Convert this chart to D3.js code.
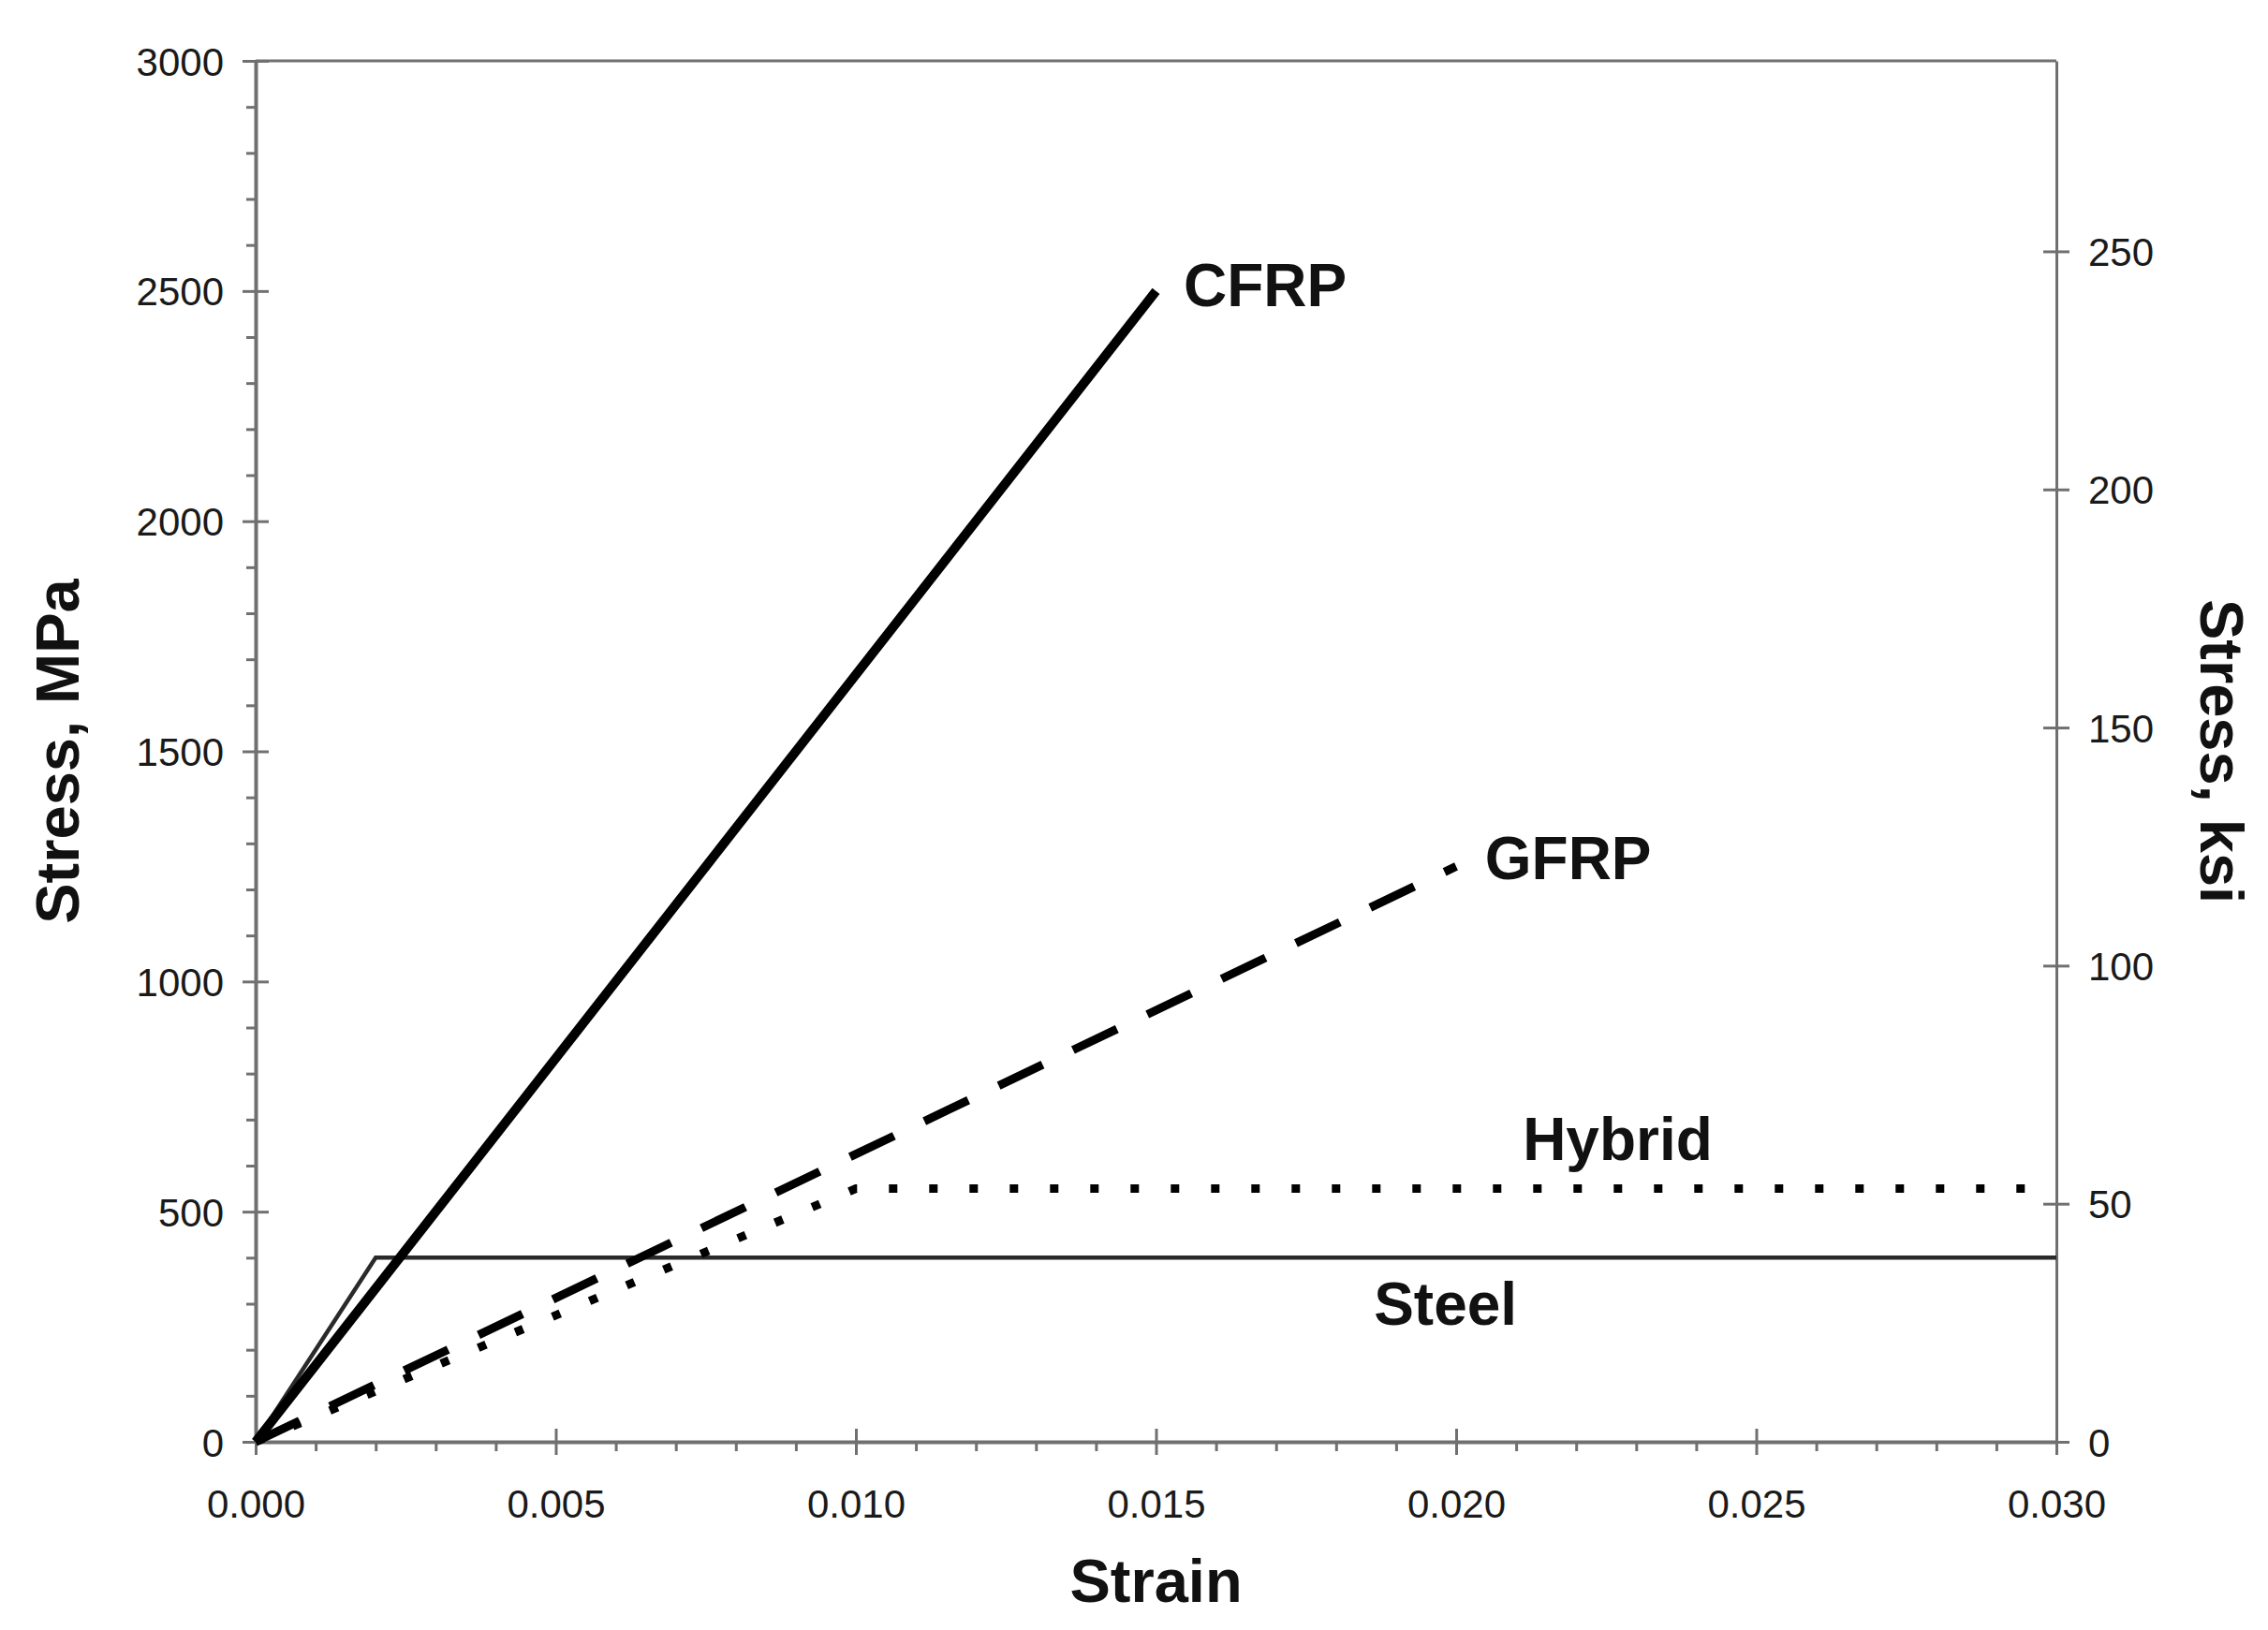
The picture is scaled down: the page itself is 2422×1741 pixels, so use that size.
<!DOCTYPE html>
<html>
<head>
<meta charset="utf-8">
<script src="https://cdn.jsdelivr.net/npm/d3@7"></script>
<style>
  body { margin: 0; background: #fff; }
  svg { display: block; font-family: "Liberation Sans", Arial, sans-serif; }
  .tick text { fill: #1a1a1a; }
</style>
</head>
<body>
<svg id="chart" width="2422" height="1741"></svg>
<script>
const W = 2422, H = 1741;
const MARGIN = { top: 65, right: 226, bottom: 201, left: 273 };

// strain ticks and stress ticks
const strainTicks = [0, 0.005, 0.010, 0.015, 0.020, 0.025, 0.030];
const strainMinor = [0.001, 0.002, 0.003, 0.004, 0.006, 0.007, 0.008, 0.009, 0.011, 0.012, 0.013, 0.014,
  0.016, 0.017, 0.018, 0.019, 0.021, 0.022, 0.023, 0.024, 0.026, 0.027, 0.028, 0.029];
const mpaTicks = [0, 500, 1000, 1500, 2000, 2500, 3000];
const mpaMinor = [100, 200, 300, 400, 600, 700, 800, 900, 1100, 1200, 1300, 1400, 1600, 1700, 1800, 1900,
  2100, 2200, 2300, 2400, 2600, 2700, 2800, 2900];
const ksiTicks = [0, 50, 100, 150, 200, 250];

// series: [strain, stress MPa]
const cfrp = [[0, 0], [0.015, 2500]];
const gfrp = [[0, 0], [0.020, 1250]];
const hybrid = [[0, 0], [0.010, 550], [0.030, 550]];
const steel = [[0, 0], [0.002, 400], [0.030, 400]];

const seriesNames = ['CFRP', 'GFRP', 'Hybrid', 'Steel'];
// label anchor points (strain, stress)
const labelPos = [[0.01546, 2467], [0.02048, 1222], [0.02111, 612], [0.01863, 254]];

const svg = d3.select('#chart');
const x = d3.scaleLinear().domain([0, 0.03]).range([MARGIN.left, W - MARGIN.right]);
const y = d3.scaleLinear().domain([0, 3000]).range([H - MARGIN.bottom, MARGIN.top]);
const yR = d3.scaleLinear().domain([0, 290]).range([H - MARGIN.bottom, MARGIN.top]);

const axisColor = '#707070';

// frame top
svg.append('line')
  .attr('x1', x(0)).attr('x2', x(0.03))
  .attr('y1', y(3000)).attr('y2', y(3000))
  .attr('stroke', axisColor).attr('stroke-width', 3);

// left minor ticks
svg.append('g')
  .attr('transform', `translate(${x(0)},0)`)
  .call(d3.axisLeft(y).tickValues(mpaMinor).tickFormat('').tickSize(10))
  .call(g => g.select('.domain').remove())
  .selectAll('line').attr('stroke', axisColor).attr('stroke-width', 3);

// left axis
let gl = svg.append('g')
  .attr('transform', `translate(${x(0)},0)`)
  .call(d3.axisLeft(y).tickValues(mpaTicks).tickFormat(d3.format('d')).tickSize(14).tickPadding(20).tickSizeOuter(0));
gl.select('.domain').attr('stroke', axisColor).attr('stroke-width', 4);
gl.selectAll('.tick line').attr('x1', 14).attr('stroke', axisColor).attr('stroke-width', 3);
gl.selectAll('.tick text').style('font-size', '42px').attr('dy', '0.36em');

// bottom minor ticks
svg.append('g')
  .attr('transform', `translate(0,${y(0)})`)
  .call(d3.axisBottom(x).tickValues(strainMinor).tickFormat('').tickSize(10))
  .call(g => g.select('.domain').remove())
  .selectAll('line').attr('stroke', axisColor).attr('stroke-width', 3);

// bottom axis
let gb = svg.append('g')
  .attr('transform', `translate(0,${y(0)})`)
  .call(d3.axisBottom(x).tickValues(strainTicks).tickFormat(d3.format('.3f')).tickSize(14).tickPadding(37).tickSizeOuter(0));
gb.select('.domain').attr('stroke', axisColor).attr('stroke-width', 4);
gb.selectAll('.tick line').attr('y1', -14).attr('stroke', axisColor).attr('stroke-width', 3);
gb.selectAll('.tick text').style('font-size', '42px');

// right axis (ksi)
let gr = svg.append('g')
  .attr('transform', `translate(${x(0.03)},0)`)
  .call(d3.axisRight(yR).tickValues(ksiTicks).tickSize(14).tickPadding(20).tickSizeOuter(0));
gr.select('.domain').attr('stroke', axisColor).attr('stroke-width', 3);
gr.selectAll('.tick line').attr('x1', -14).attr('stroke', axisColor).attr('stroke-width', 3);
gr.selectAll('.tick text').style('font-size', '42px').attr('dy', '0.36em');
svg.selectAll('.domain').attr('fill', 'none');

// series lines
const line = d3.line().x(d => x(d[0])).y(d => y(d[1]));
const plot = svg.append('g').attr('fill', 'none').attr('stroke-linecap', 'butt');

plot.append('path').datum(steel).attr('d', line)
  .attr('stroke', '#2a2a2a').attr('stroke-width', 4.5);
plot.append('path').datum(hybrid).attr('d', line)
  .attr('stroke', '#000').attr('stroke-width', 9).attr('stroke-dasharray', '9,34');
plot.append('path').datum(gfrp).attr('d', line)
  .attr('stroke', '#000').attr('stroke-width', 9).attr('stroke-dasharray', '52,36');
plot.append('path').datum(cfrp).attr('d', line)
  .attr('stroke', '#000').attr('stroke-width', 10);

// series labels
svg.append('g').selectAll('text')
  .data(seriesNames)
  .join('text')
  .attr('x', (d, i) => x(labelPos[i][0]))
  .attr('y', (d, i) => y(labelPos[i][1]))
  .attr('font-size', 64).attr('font-weight', 'bold').attr('fill', '#111')
  .text(d => d);

// axis titles
svg.append('text')
  .attr('x', (x(0) + x(0.03)) / 2).attr('y', 1711)
  .attr('text-anchor', 'middle').attr('font-size', 65).attr('font-weight', 'bold').attr('fill', '#111')
  .text('Strain');

svg.append('text')
  .attr('transform', `translate(84,${(y(0) + y(3000)) / 2}) rotate(-90)`)
  .attr('text-anchor', 'middle').attr('font-size', 65).attr('font-weight', 'bold').attr('fill', '#111')
  .text('Stress, MPa');

svg.append('text')
  .attr('transform', `translate(2350,${(y(0) + y(3000)) / 2}) rotate(90)`)
  .attr('text-anchor', 'middle').attr('font-size', 65).attr('font-weight', 'bold').attr('fill', '#111')
  .text('Stress, ksi');
</script>
</body>
</html>
